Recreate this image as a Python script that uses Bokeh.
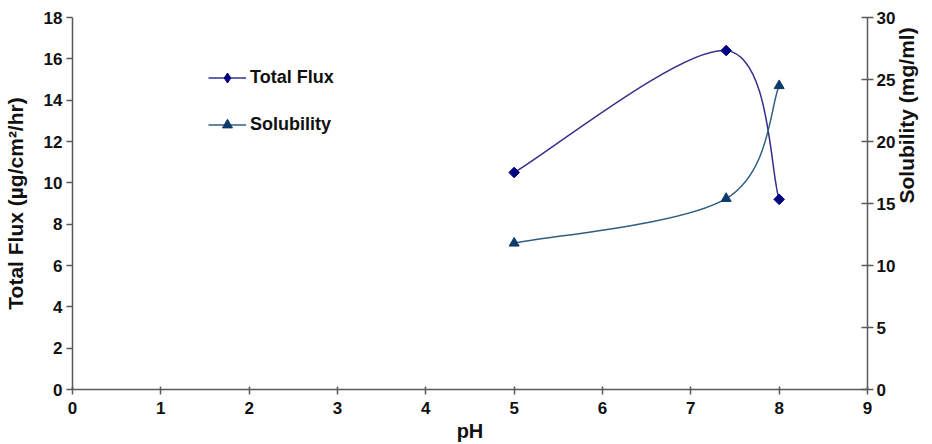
import numpy as np
from bokeh.plotting import figure
from bokeh.models import Range1d, LinearAxis, Legend, LegendItem, FixedTicker
from bokeh.embed import file_html
from bokeh.resources import INLINE

ph = [5.0, 7.4, 8.0]
total_flux = [10.5, 16.4, 9.2]
solubility = [11.8, 15.4, 24.5]

x_ticks = [0, 1, 2, 3, 4, 5, 6, 7, 8, 9]
left_ticks = [0, 2, 4, 6, 8, 10, 12, 14, 16, 18]
right_ticks = [0, 5, 10, 15, 20, 25, 30]

FLUX_LINE = "#35308c"
FLUX_MARK = "#000080"
SOL_LINE = "#2f5f80"
SOL_MARK = "#0b3a6b"
AXIS = "#5a5a5a"
FONT = "Liberation Sans"


def smooth_segments(xs, ys, k=1.0 / 6.0):
    """Excel-style smoothed line: cubic Bezier segments through the data points."""
    xs = np.asarray(xs, float)
    ys = np.asarray(ys, float)
    n = len(xs)
    seg = dict(x0=[], y0=[], x1=[], y1=[], cx0=[], cy0=[], cx1=[], cy1=[])
    for i in range(n - 1):
        p0 = max(i - 1, 0)
        p3 = min(i + 2, n - 1)
        seg["x0"].append(xs[i]); seg["y0"].append(ys[i])
        seg["x1"].append(xs[i + 1]); seg["y1"].append(ys[i + 1])
        seg["cx0"].append(xs[i] + (xs[i + 1] - xs[p0]) * k)
        seg["cy0"].append(ys[i] + (ys[i + 1] - ys[p0]) * k)
        seg["cx1"].append(xs[i + 1] - (xs[p3] - xs[i]) * k)
        seg["cy1"].append(ys[i + 1] - (ys[p3] - ys[i]) * k)
    return seg


p = figure(width=932, height=444, output_backend="svg", toolbar_location=None,
           x_range=Range1d(0, 9), y_range=Range1d(0, 18),
           min_border_left=72, min_border_right=65, min_border_top=17, min_border_bottom=54)
p.extra_y_ranges = {"sol": Range1d(0, 30)}
p.outline_line_color = None
p.grid.visible = False
p.background_fill_color = "white"

p.xaxis.ticker = FixedTicker(ticks=x_ticks)
p.yaxis.ticker = FixedTicker(ticks=left_ticks)
p.xaxis.axis_label = "pH"
p.yaxis.axis_label = "Total Flux (µg/cm²/hr)"

right = LinearAxis(y_range_name="sol", ticker=FixedTicker(ticks=right_ticks),
                   axis_label="Solubility (mg/ml)")
p.add_layout(right, "right")

for ax in [p.xaxis[0], p.yaxis[0], right]:
    ax.axis_line_color = AXIS
    ax.axis_line_width = 1.5
    ax.major_tick_line_color = AXIS
    ax.major_tick_line_width = 1.5
    ax.minor_tick_line_color = None
    ax.major_label_text_font = FONT
    ax.major_label_text_font_style = "bold"
    ax.major_label_text_font_size = "17px"
    ax.major_label_text_color = "#111111"
    ax.axis_label_text_font = FONT
    ax.axis_label_text_font_style = "bold"
    ax.axis_label_text_font_size = "21px"
    ax.axis_label_text_color = "#111111"

p.xaxis[0].axis_label_text_font_size = "20px"
p.yaxis[0].major_tick_in = 0
p.yaxis[0].major_tick_out = 6
p.yaxis[0].major_label_standoff = 4
p.yaxis[0].axis_label_standoff = 14
p.xaxis[0].major_tick_in = 3
p.xaxis[0].major_tick_out = 5
p.xaxis[0].major_label_standoff = 7
p.xaxis[0].axis_label_standoff = 3
right.major_tick_in = 6
right.major_tick_out = 6
right.major_label_standoff = 3
right.axis_label_standoff = 8
right.axis_label_orientation = np.pi / 2

fs = smooth_segments(ph, total_flux)
p.bezier(source=fs, x0="x0", y0="y0", x1="x1", y1="y1",
         cx0="cx0", cy0="cy0", cx1="cx1", cy1="cy1",
         line_color=FLUX_LINE, line_width=1.5)
p.scatter(ph, total_flux, marker="square", angle=np.pi / 4, size=7.5,
          fill_color=FLUX_MARK, line_color=FLUX_MARK)

ss = smooth_segments(ph, solubility)
p.bezier(source=ss, x0="x0", y0="y0", x1="x1", y1="y1",
         cx0="cx0", cy0="cy0", cx1="cx1", cy1="cy1",
         line_color=SOL_LINE, line_width=1.5, y_range_name="sol")
p.scatter(ph, solubility, marker="triangle", size=10,
          fill_color=SOL_MARK, line_color=SOL_MARK, y_range_name="sol")

# legend swatches (off-range, only shown in the legend)
lf = p.line([-10, -9], [-10, -9], line_color=FLUX_LINE, line_width=1.5)
lfm = p.scatter([-10], [-10], marker="diamond", size=10,
                fill_color=FLUX_MARK, line_color=FLUX_MARK)
ls = p.line([-10, -9], [-10, -9], line_color=SOL_LINE, line_width=1.5)
lsm = p.scatter([-10], [-10], marker="triangle", size=10,
                fill_color=SOL_MARK, line_color=SOL_MARK)

legend = Legend(items=[LegendItem(label="Total Flux", renderers=[lf, lfm]),
                       LegendItem(label="Solubility", renderers=[ls, lsm])],
                location=(136, 252), orientation="vertical",
                glyph_width=38, glyph_height=25, label_height=25,
                spacing=22, padding=0, margin=0, label_standoff=4,
                border_line_alpha=0, background_fill_alpha=0,
                label_text_font=FONT, label_text_font_style="bold",
                label_text_font_size="18px", label_text_color="#111111")
p.add_layout(legend, "center")

open("out.html", "w").write(file_html(p, INLINE))
